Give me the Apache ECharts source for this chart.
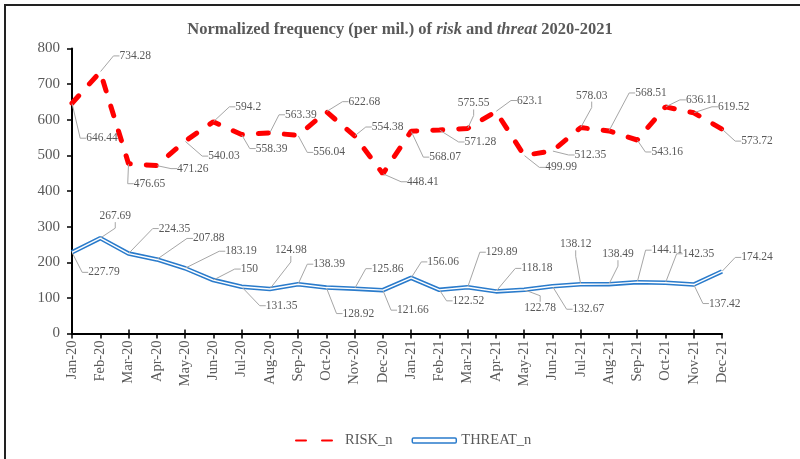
<!DOCTYPE html>
<html>
<head>
<meta charset="utf-8">
<script src="https://cdn.jsdelivr.net/npm/echarts@6/dist/echarts.min.js"></script>
<style>
html,body{margin:0;padding:0;background:#fff;}
#chart{width:800px;height:459px;}
</style>
</head>
<body>
<div id="chart"></div>
<script>
// ---- data ----
const categories = ['Jan-20','Feb-20','Mar-20','Apr-20','May-20','Jun-20','Jul-20','Aug-20','Sep-20','Oct-20','Nov-20','Dec-20',
                    'Jan-21','Feb-21','Mar-21','Apr-21','May-21','Jun-21','Jul-21','Aug-21','Sep-21','Oct-21','Nov-21','Dec-21'];
const riskValues = [646.44,734.28,476.65,471.26,540.03,594.2,558.39,563.39,556.04,622.68,554.38,448.41,
                    568.07,571.28,575.55,623.1,499.99,512.35,578.03,568.51,543.16,636.11,619.52,573.72];
const threatValues = [227.79,267.69,224.35,207.88,183.19,150,131.35,124.98,138.39,128.92,125.86,121.66,
                      156.06,122.52,129.89,118.18,122.78,132.67,138.12,138.49,144.11,142.35,137.42,174.24];
const seriesNames = ['RISK_n','THREAT_n'];
const yMin = 0, yMax = 800, yStep = 100;

// ---- label placement (pixel offsets of each data label from its point) ----
const riskLabelShift = [[30,35],[35,-16],[21,20],[36,3],[39,15],[35,-15],[30,14],[31,-18],[31,17],[38,-10],[33,-9],[40,8],
                        [34,26],[41,12],[6,-25],[34,-11],[37,12],[38,4],[11,-32],[42,-38],[30,12],[36,-7],[40,-6],[35,12]];
const threatLabelShift = [[32,20],[15,-22],[46,-25],[52,-21],[56,-17],[36,-11],[40,19],[21,-39],[31,-20],[32,26],[33,-20],[30,20],
                          [32,-16],[29,11],[34,-35],[41,-23],[16,18],[36,23],[-5,-40],[9,-30],[30,-32],[33,-29],[31,19],[35,-14]];

const FONT = 'Liberation Serif';
const GRAY = '#595959';
const BLUE = '#2A7BCB';
const RED = '#FF0000';

function labelCfg() {
  return {
    show: true, position: 'inside', color: GRAY, fontFamily: FONT, fontSize: 11.5,
    align: 'center', verticalAlign: 'middle',
    formatter: p => String(p.value)
  };
}
const labelLineCfg = { show: true, length2: 6, lineStyle: { color: '#A6A6A6', width: 1 } };

const chart = echarts.init(document.getElementById('chart'), null, { renderer: 'canvas' });
chart.setOption({
  animation: false,
  backgroundColor: '#fff',
  title: {
    left: 'center', top: 16,
    text: '{a|Normalized frequency (per mil.) of }{b|risk}{a| and }{b|threat}{a| 2020-2021}',
    textStyle: {
      rich: {
        a: { fontFamily: FONT, fontSize: 16.5, fontWeight: 'bold', color: GRAY },
        b: { fontFamily: FONT, fontSize: 16.5, fontWeight: 'bold', fontStyle: 'italic', color: GRAY }
      }
    }
  },
  grid: { left: 72, right: 78, top: 48.5, bottom: 125.5, containLabel: false },
  legend: {
    left: 290, top: 428,
    itemWidth: 44, itemHeight: 5, itemGap: 19,
    textStyle: { fontFamily: FONT, fontSize: 14.5, color: GRAY },
    data: [
      { name: seriesNames[0] },
      { name: seriesNames[1], icon: 'roundRect', itemStyle: { color: '#FFFFFF', borderColor: BLUE, borderWidth: 1.5 } }
    ]
  },
  xAxis: [{
    type: 'category', data: categories, boundaryGap: false,
    axisLine: { show: true, lineStyle: { color: '#000', width: 2 } },
    axisTick: { show: true, alignWithLabel: true, length: 5, lineStyle: { color: '#000', width: 1.5 } },
    axisLabel: { interval: 0, rotate: 90, margin: 7, color: GRAY, fontFamily: FONT, fontSize: 14.5 },
    splitLine: { show: false }
  }, {
    type: 'category', data: categories, boundaryGap: false, position: 'bottom',
    axisLine: { show: false },
    axisTick: { show: true, inside: true, length: 4, lineStyle: { color: '#000', width: 1.5 } },
    axisLabel: { show: false }, splitLine: { show: false }
  }],
  yAxis: {
    type: 'value', min: yMin, max: yMax, interval: yStep,
    axisLine: { show: true, lineStyle: { color: '#000', width: 2 } },
    axisTick: { show: true, length: 5, lineStyle: { color: '#000', width: 1.5 } },
    axisLabel: { margin: 12, color: GRAY, fontFamily: FONT, fontSize: 15 },
    splitLine: { show: false }
  },
  series: [
    {
      name: seriesNames[0], type: 'line', data: riskValues,
      symbol: 'circle', symbolSize: 1, showSymbol: true,
      itemStyle: { color: 'rgba(0,0,0,0)' },
      lineStyle: { color: RED, width: 5, type: [10, 16], cap: 'round' },
      label: labelCfg(),
      labelLine: labelLineCfg,
      labelLayout: p => ({ dx: riskLabelShift[p.dataIndex][0], dy: riskLabelShift[p.dataIndex][1] }),
      z: 3
    },
    {
      name: seriesNames[1], type: 'line', data: threatValues,
      symbol: 'circle', symbolSize: 1, showSymbol: true,
      itemStyle: { color: 'rgba(0,0,0,0)' },
      lineStyle: { color: BLUE, width: 4.5 },
      label: labelCfg(),
      labelLine: labelLineCfg,
      labelLayout: p => ({ dx: threatLabelShift[p.dataIndex][0], dy: threatLabelShift[p.dataIndex][1] }),
      z: 2
    },
    {
      name: 'threat-inner', type: 'line', data: threatValues,
      symbol: 'none', silent: true,
      lineStyle: { color: '#FFFFFF', width: 1.4 },
      z: 2.5
    }
  ],
  graphic: [
    { type: 'line', shape: { x1: 5, y1: 4, x2: 5, y2: 459 }, style: { stroke: '#222', lineWidth: 2 } },
    { type: 'line', shape: { x1: 4, y1: 5, x2: 800, y2: 5 }, style: { stroke: '#222', lineWidth: 2 } }
  ]
});
</script>
</body>
</html>
